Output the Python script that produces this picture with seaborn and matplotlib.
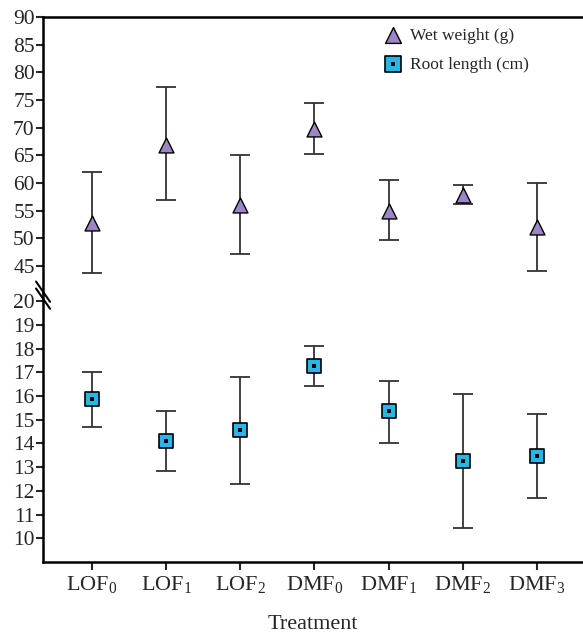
import numpy as np
import pandas as pd
import matplotlib
matplotlib.use("Agg")
import matplotlib.pyplot as plt
from matplotlib.legend_handler import HandlerTuple
import seaborn as sns

treatments = ["LOF0", "LOF1", "LOF2", "DMF0", "DMF1", "DMF2", "DMF3"]
tick_labels = [r"LOF$_\mathrm{0}$", r"LOF$_\mathrm{1}$", r"LOF$_\mathrm{2}$",
               r"DMF$_\mathrm{0}$", r"DMF$_\mathrm{1}$", r"DMF$_\mathrm{2}$",
               r"DMF$_\mathrm{3}$"]

# wet weight (g): mean, lower end, upper end of error bar
wet_mean = [52.8, 66.8, 56.0, 69.8, 55.0, 57.8, 52.0]
wet_low = [43.7, 56.9, 47.2, 65.2, 49.6, 56.1, 44.0]
wet_high = [62.0, 77.3, 65.0, 74.5, 60.5, 59.6, 60.0]

# root length (cm)
root_mean = [15.86, 14.10, 14.55, 17.25, 15.37, 13.24, 13.48]
root_low = [14.70, 12.82, 12.30, 16.42, 14.04, 10.42, 11.72]
root_high = [17.03, 15.38, 16.80, 18.12, 16.63, 16.08, 15.25]

sns.set_style("white")
plt.rcParams["font.family"] = ["Liberation Serif", "DejaVu Serif"]
plt.rcParams["mathtext.fontset"] = "custom"
plt.rcParams["mathtext.rm"] = "Liberation Serif"
plt.rcParams["mathtext.it"] = "Liberation Serif:italic"

df = pd.DataFrame({
    "pos": np.arange(len(treatments)),
    "treatment": treatments,
    "wet": wet_mean, "wet_lo": wet_low, "wet_hi": wet_high,
    "root": root_mean, "root_lo": root_low, "root_hi": root_high,
})

fig = plt.figure(figsize=(5.83, 6.34), dpi=100)
ax_top = fig.add_axes([0.0738, 0.5379, 0.9262, 0.4353])
ax_bot = fig.add_axes([0.0738, 0.1136, 0.9262, 0.4243], sharex=ax_top)

purple = "#9d86c6"
blue = "#2bb5e6"
err_kw = dict(fmt="none", ecolor="#333333", elinewidth=1.3, capsize=7, capthick=1.3, zorder=2)

# upper panel: wet weight
ax_top.errorbar(df["pos"], df["wet"],
                yerr=[df["wet"] - df["wet_lo"], df["wet_hi"] - df["wet"]], **err_kw)
sns.scatterplot(data=df, x="pos", y="wet", ax=ax_top, marker="^", s=115,
                color=purple, edgecolor="black", linewidth=1.0, zorder=3, legend=False)

# lower panel: root length
ax_bot.errorbar(df["pos"], df["root"],
                yerr=[df["root"] - df["root_lo"], df["root_hi"] - df["root"]], **err_kw)
sns.scatterplot(data=df, x="pos", y="root", ax=ax_bot, marker="s", s=105,
                color=blue, edgecolor="black", linewidth=1.2, zorder=3, legend=False)
sns.scatterplot(data=df, x="pos", y="root", ax=ax_bot, marker="s", s=6,
                color="black", linewidth=0, zorder=4, legend=False)

ax_top.set_ylim(40.1, 90)
ax_top.set_yticks(range(45, 91, 5))
ax_bot.set_ylim(9.0, 20.35)
ax_bot.set_yticks(range(10, 21))
ax_bot.set_xlim(-0.66, 6.62)
ax_bot.set_xticks(df["pos"])
ax_bot.set_xticklabels(tick_labels)

for ax in (ax_top, ax_bot):
    for s in ax.spines.values():
        s.set_linewidth(1.8)
        s.set_color("black")
    ax.spines["right"].set_visible(False)
    ax.tick_params(axis="y", direction="out", length=5, width=1.5, labelsize=15.5,
                   left=True, pad=1)
    ax.set_ylabel("")
ax_top.spines["bottom"].set_visible(False)
ax_bot.spines["top"].set_visible(False)
ax_top.tick_params(axis="x", bottom=False, labelbottom=False)
ax_bot.tick_params(axis="x", direction="out", length=6, width=1.5, labelsize=16,
                   bottom=True, pad=3)
ax_top.set_xlabel("")
ax_bot.set_xlabel("Treatment", fontsize=16, labelpad=14)

# break marks on the left spine
x0 = 0.0738
for dy in (0.0, 0.011):
    fig.add_artist(plt.Line2D([x0 - 0.012, x0 + 0.012],
                              [0.556 - dy, 0.524 - dy],
                              transform=fig.transFigure, color="black", lw=1.5))

# legend
tri = ax_top.scatter([], [], marker="^", s=130, color=purple, edgecolor="black", linewidth=1.0)
sq = ax_top.scatter([], [], marker="s", s=120, color=blue, edgecolor="black", linewidth=1.2)
dot = ax_top.scatter([], [], marker="s", s=6, color="black", linewidth=0)
ax_top.legend([tri, (sq, dot)], ["Wet weight (g)", "Root length (cm)"],
              handler_map={tuple: HandlerTuple(ndivide=1, pad=0)},
              loc="upper left", bbox_to_anchor=(0.596, 1.018), frameon=False,
              fontsize=12.5, labelspacing=0.75, handletextpad=0.3, handlelength=1.4)

fig.savefig("out.png", dpi=100)
